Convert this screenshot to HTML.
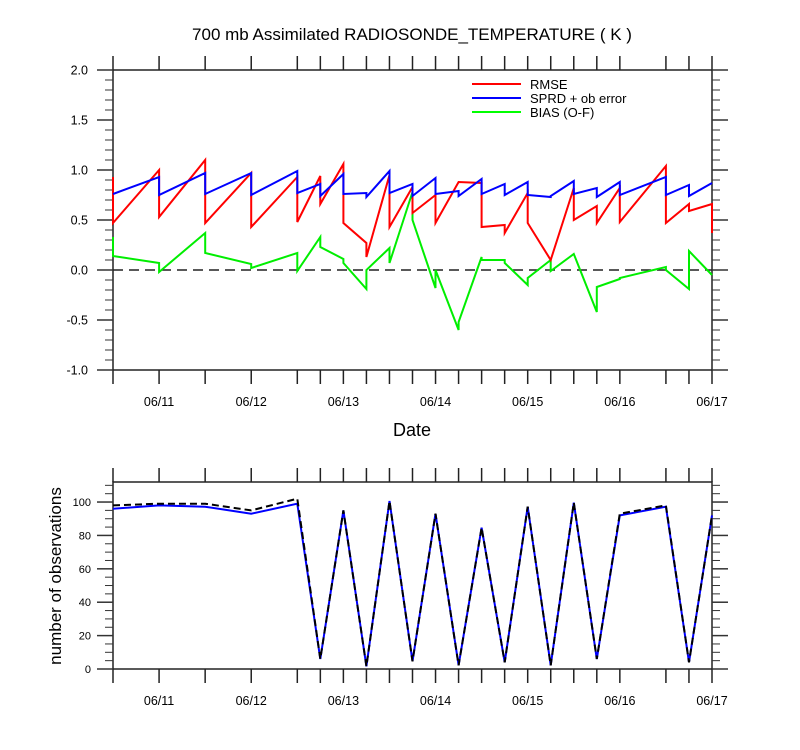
<!DOCTYPE html>
<html><head><meta charset="utf-8">
<style>
html,body{margin:0;padding:0;background:#fff;}
svg{display:block;font-family:"Liberation Sans",Arial,sans-serif;}
</style></head>
<body>
<svg id="chart" width="800" height="750" viewBox="0 0 800 750">
<text x="412" y="40" font-size="17" text-anchor="middle">700 mb Assimilated RADIOSONDE_TEMPERATURE ( K )</text>
<text x="412" y="436" font-size="18" text-anchor="middle">Date</text>
<text transform="translate(61,576) rotate(-90)" font-size="17" text-anchor="middle">number of observations</text>
<g id="topplot"></g>
<g id="botplot"></g>
<g>
  <line x1="472" y1="84" x2="521" y2="84" stroke="#f00" stroke-width="2"/>
  <text x="530" y="89" font-size="13">RMSE</text>
  <line x1="472" y1="98" x2="521" y2="98" stroke="#00f" stroke-width="2"/>
  <text x="530" y="103" font-size="13">SPRD + ob error</text>
  <line x1="472" y1="112" x2="521" y2="112" stroke="#0f0" stroke-width="2"/>
  <text x="530" y="117" font-size="13">BIAS (O-F)</text>
</g>
</svg>
<script>
const times = [10.5,11,11.5,12,12.5,12.75,13,13.25,13.5,13.75,14,14.25,14.5,14.75,15,15.25,15.5,15.75,16,16.5,16.75,17];
const rmseIn  = [0.93,1.00,1.10,0.97,0.93,0.94,1.06,0.27,0.95,0.83,0.75,0.88,0.87,0.45,0.77,0.10,0.82,0.64,0.82,1.04,0.66,0.66];
const rmseOut = [0.47,0.53,0.47,0.43,0.48,0.66,0.47,0.13,0.43,0.57,0.47,0.88,0.43,0.37,0.47,0.10,0.50,0.47,0.48,0.47,0.59,0.37];
const sprdIn  = [0.76,0.93,0.97,0.97,0.99,0.86,0.96,0.77,0.99,0.86,0.92,0.79,0.91,0.86,0.88,0.73,0.89,0.82,0.88,0.93,0.85,0.87];
const sprdOut = [0.76,0.75,0.76,0.75,0.77,0.74,0.76,0.73,0.77,0.74,0.76,0.74,0.76,0.75,0.75,0.74,0.76,0.73,0.75,0.75,0.74,0.87];
const biasIn  = [0.33,0.07,0.37,0.06,0.17,0.33,0.11,-0.19,0.22,0.78,-0.18,-0.60,0.13,0.10,-0.15,0.10,0.16,-0.42,-0.09,0.03,-0.19,-0.05];
const biasOut = [0.14,-0.02,0.17,0.02,-0.01,0.23,0.07,0.00,0.07,0.50,0.00,-0.52,0.10,0.07,-0.08,-0.01,0.16,-0.17,-0.08,0.00,0.19,-0.05];
const obsUsed  = [96,98,97.2,93,99,6,95,1.6,100.6,4.6,93,2.2,84.6,4,97.2,2.2,99.6,6,92,97.2,4,92];
const obsTotal = [98,99,99,95,102,6,95,1.6,100.6,4.6,93,2.2,84.6,4,97.2,2.2,99.6,6,93,98,4,92];
const dayTicks = [11,12,13,14,15,16,17];
const dayLabels = ["06/11","06/12","06/13","06/14","06/15","06/16","06/17"];
const topYTicks = [-1.0,-0.5,0.0,0.5,1.0,1.5,2.0];
const botYTicks = [0,20,40,60,80,100];

const NS="http://www.w3.org/2000/svg";
const X0=113,X1=712,T0=10.5,T1=17;
const xs=t=>X0+(t-T0)/(T1-T0)*(X1-X0);
const TY0=70,TY1=370,V0=-1,V1=2;
const ty=v=>TY1-(v-V0)/(V1-V0)*(TY1-TY0);
const BY0=482,BY1=669,B0=0,B1=112;
const by=v=>BY1-(v-B0)/(B1-B0)*(BY1-BY0);
function mk(tag,attrs,parent){const e=document.createElementNS(NS,tag);for(const k in attrs)e.setAttribute(k,attrs[k]);parent.appendChild(e);return e;}

function frame(g,yTop,yBot,name){
  const f=mk('rect',{x:X0,y:yTop,width:X1-X0,height:yBot-yTop,fill:'none',stroke:'#222','stroke-width':1.5},g);
  
  
  times.forEach(t=>{
    const x=xs(t);
    const a=mk('line',{x1:x,y1:yTop,x2:x,y2:yTop-14,stroke:'#222','stroke-width':1.5},g);
    
    
    const b=mk('line',{x1:x,y1:yBot,x2:x,y2:yBot+14,stroke:'#222','stroke-width':1.5},g);
    
    
  });
  dayTicks.forEach((d,i)=>{
    const tx=mk('text',{x:xs(d),y:yBot+36,'font-size':12.5,'text-anchor':'middle'},g);
    tx.textContent=dayLabels[i];
    
    
  });
}

const topG=document.getElementById('topplot');
frame(topG,TY0,TY1,'top');
for(let k=0;k<=30;k++){
  const v=V0+k*0.1, y=ty(v), major=(k%5===0), L=major?16:8;
  const a=mk('line',{x1:X0-L,y1:y,x2:X0,y2:y,stroke:'#333','stroke-width':major?1.5:1},topG);
  
  
  const b=mk('line',{x1:X1,y1:y,x2:X1+L,y2:y,stroke:'#333','stroke-width':major?1.5:1},topG);
  
  
}
topYTicks.forEach(v=>{
  const t=mk('text',{x:88,y:ty(v)+4.5,'font-size':12.5,'text-anchor':'end'},topG);
  t.textContent=v.toFixed(1);
  
  
});
const zl=mk('line',{x1:X0,y1:ty(0),x2:X1,y2:ty(0),stroke:'#222','stroke-width':1.5,'stroke-dasharray':'10,6'},topG);


function saw(inA,outA,color,name){
  let d='';
  times.forEach((t,i)=>{d+=(i?'L':'M')+xs(t).toFixed(1)+' '+ty(inA[i]).toFixed(1)+' L'+xs(t).toFixed(1)+' '+ty(outA[i]).toFixed(1)+' ';});
  const p=mk('path',{d:d,fill:'none',stroke:color,'stroke-width':2},topG);
  
  
}
saw(biasIn,biasOut,'#00ee00','bias-line');
saw(rmseIn,rmseOut,'#ff0000','rmse-line');
saw(sprdIn,sprdOut,'#0000ff','sprd-line');

const botG=document.getElementById('botplot');
frame(botG,BY0,BY1,'bottom');
for(let v=0;v<=110;v+=5){
  const y=by(v), major=(v%20===0), L=major?16:8;
  const a=mk('line',{x1:X0-L,y1:y,x2:X0,y2:y,stroke:'#333','stroke-width':major?1.5:1},botG);
  
  
  const b=mk('line',{x1:X1,y1:y,x2:X1+L,y2:y,stroke:'#333','stroke-width':major?1.5:1},botG);
  
  
}
botYTicks.forEach(v=>{
  const t=mk('text',{x:91,y:by(v)+4,'font-size':11,'text-anchor':'end'},botG);
  t.textContent=String(v);
  
  
});
function pl(arr,color,dash,name){
  const d=times.map((t,i)=>(i?'L':'M')+xs(t).toFixed(1)+' '+by(arr[i]).toFixed(1)).join(' ');
  const attrs={d:d,fill:'none',stroke:color,'stroke-width':2};
  if(dash)attrs['stroke-dasharray']=dash;
  const p=mk('path',attrs,botG);
  
  
}
pl(obsUsed,'#0000ff',null,'obs-used-line');
pl(obsTotal,'#000','7,4','obs-total-line');
</script>
</body></html>
